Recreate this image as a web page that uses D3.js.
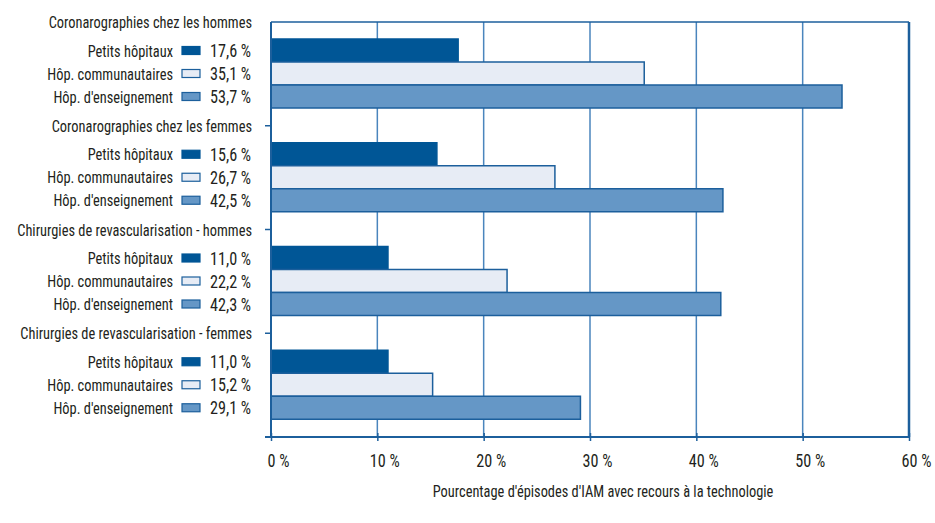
<!DOCTYPE html>
<html>
<head>
<meta charset="utf-8">
<script src="https://cdn.jsdelivr.net/npm/d3@7"></script>
<style>
  html, body { margin: 0; padding: 0; background: #fff; }
  svg text { font-family: "Liberation Sans Narrow", "Roboto Condensed", "DejaVu Sans Condensed", sans-serif; fill: #231f20; }
</style>
</head>
<body>
<svg id="chart" width="935" height="523"></svg>
<script>
// Groups of procedures and hospital types
const groups = [
  "Coronarographies chez les hommes",
  "Coronarographies chez les femmes",
  "Chirurgies de revascularisation - hommes",
  "Chirurgies de revascularisation - femmes"
];
const hospitalTypes = ["Petits hôpitaux", "Hôp. communautaires", "Hôp. d'enseignement"];
// Percentage values, one array per hospital type (order = groups)
const petitsHopitaux = [17.6, 15.6, 11.0, 11.0];
const hopCommunautaires = [35.1, 26.7, 22.2, 15.2];
const hopEnseignement = [53.7, 42.5, 42.3, 29.1];
const xTicks = [0, 10, 20, 30, 40, 50, 60];
const xTitle = "Pourcentage d'épisodes d'IAM avec recours à la technologie";

const seriesValues = [petitsHopitaux, hopCommunautaires, hopEnseignement];
const fills = ["#005696", "#e7ecf5", "#6597c6"];
const strokes = ["#005696", "#1c5f9c", "#1c5f9c"];

const svg = d3.select("#chart");
const mLeft = 271, mRight = 909, mTop = 22, mBottom = 437;
const narrow = 0.9; // horizontal squeeze for a tall, condensed look

const x = d3.scaleLinear().domain([0, 60]).range([mLeft, mRight]);
const yGroup = d3.scaleBand().domain(groups).range([mTop, mBottom]).padding(0);
const ySeries = d3.scaleBand().domain(hospitalTypes).range([17, 17 + 69]).padding(0);

const fmt = v => d3.format(".1f")(v).replace(".", ",") + " %";

// Condensed text helper
function label(parent, tx, ty, str, size, anchor) {
  return parent.append("text")
    .attr("transform", `translate(${tx},${ty}) scale(${narrow},1)`)
    .attr("text-anchor", anchor)
    .attr("font-size", size)
    .text(str);
}

// Vertical gridlines
svg.append("g").selectAll("line").data(xTicks.slice(1, -1)).join("line")
  .attr("x1", d => x(d)).attr("x2", d => x(d))
  .attr("y1", mTop).attr("y2", mBottom)
  .attr("stroke", "#4a85bd").attr("stroke-width", 1.5);

// Frame: top and right
svg.append("line").attr("x1", mLeft).attr("x2", mRight).attr("y1", mTop).attr("y2", mTop)
  .attr("stroke", "#1c5f9c").attr("stroke-width", 1.5);
svg.append("line").attr("x1", mRight).attr("x2", mRight).attr("y1", mTop).attr("y2", mBottom)
  .attr("stroke", "#1c5f9c").attr("stroke-width", 2.5);

// Bars
groups.forEach((g, gi) => {
  hospitalTypes.forEach((h, si) => {
    const v = seriesValues[si][gi];
    svg.append("rect")
      .attr("x", x(0))
      .attr("y", yGroup(g) + ySeries(h))
      .attr("width", x(v) - x(0))
      .attr("height", ySeries.bandwidth())
      .attr("fill", fills[si])
      .attr("stroke", strokes[si])
      .attr("stroke-width", 1.5);
  });
});

// Left axis line with group ticks
svg.append("line").attr("x1", mLeft).attr("x2", mLeft).attr("y1", mTop).attr("y2", mBottom)
  .attr("stroke", "#1c5f9c").attr("stroke-width", 2);
svg.append("g").selectAll("line").data(groups.slice(1).map(g => yGroup(g)).concat([mBottom])).join("line")
  .attr("x1", mLeft - 6).attr("x2", mLeft).attr("y1", d => d).attr("y2", d => d)
  .attr("stroke", "#1c5f9c").attr("stroke-width", 1.5);

// Bottom axis
const xAxis = d3.axisBottom(x).tickValues(xTicks).tickSize(6).tickFormat(d => d + " %");
const ax = svg.append("g").attr("transform", `translate(0,${mBottom})`).call(xAxis);
ax.select(".domain").attr("stroke", "#1c5f9c").attr("stroke-width", 2).attr("d", `M${mLeft - 6},0H${mRight}`);
ax.selectAll(".tick line").attr("stroke", "#1c5f9c").attr("stroke-width", 1.5).attr("y1", -4).attr("y2", 4);
ax.selectAll(".tick text")
  .attr("y", null).attr("dy", null)
  .attr("transform", `translate(7,30) scale(${narrow},1)`)
  .attr("font-size", 18)
  .style("font-family", "'Liberation Sans Narrow', 'Roboto Condensed', sans-serif")
  .attr("fill", "#231f20");

// Axis title
label(svg, 603, 497, xTitle, 16, "middle");

// Group titles and inline legends
groups.forEach((g, gi) => {
  const g0 = yGroup(g);
  label(svg, 252, g0 + 6, g, 16, "end");
  hospitalTypes.forEach((h, si) => {
    const cy = g0 + ySeries(h) + ySeries.bandwidth() / 2;
    label(svg, 173, cy + 6, h, 16, "end");
    svg.append("rect").attr("x", 182).attr("y", cy - 4).attr("width", 18).attr("height", 8)
      .attr("fill", fills[si]).attr("stroke", strokes[si]).attr("stroke-width", 1.2);
    label(svg, 210, cy + 6.5, fmt(seriesValues[si][gi]), 18, "start");
  });
});
</script>
</body>
</html>
